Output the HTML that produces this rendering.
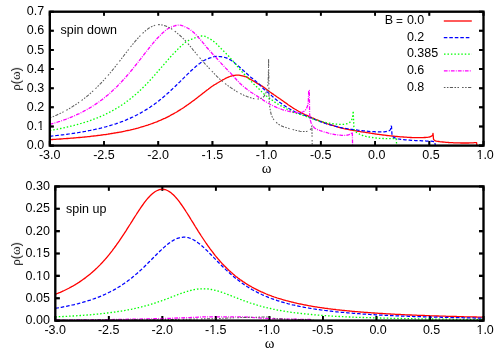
<!DOCTYPE html>
<html lang="en">
<head>
<meta charset="utf-8">
<title>Spectral density plots</title>
<style>
html,body{margin:0;padding:0;background:#fff;}
body{width:500px;height:350px;overflow:hidden;font-family:"Liberation Sans",sans-serif;}
svg{display:block;}
</style>
</head>
<body>
<svg width="500" height="350" viewBox="0 0 500 350">
<rect x="0" y="0" width="500" height="350" fill="#ffffff"/>
<g id="ticks">
<path d="M49.80,145.60 v-4.55 M49.80,11.70 v4.10 M104.01,145.60 v-4.55 M104.01,11.70 v4.10 M158.22,145.60 v-4.55 M158.22,11.70 v4.10 M212.44,145.60 v-4.55 M212.44,11.70 v4.10 M266.65,145.60 v-4.55 M266.65,11.70 v4.10 M320.86,145.60 v-4.55 M320.86,11.70 v4.10 M375.07,145.60 v-4.55 M375.07,11.70 v4.10 M429.29,145.60 v-4.55 M429.29,11.70 v4.10 M483.50,145.60 v-4.55 M483.50,11.70 v4.10" stroke="#000" stroke-width="1.85" fill="none"/>
<path d="M49.80,145.60 h4.00 M483.50,145.60 h-4.50 M49.80,126.47 h4.00 M483.50,126.47 h-4.50 M49.80,107.34 h4.00 M483.50,107.34 h-4.50 M49.80,88.21 h4.00 M483.50,88.21 h-4.50 M49.80,69.09 h4.00 M483.50,69.09 h-4.50 M49.80,49.96 h4.00 M483.50,49.96 h-4.50 M49.80,30.83 h4.00 M483.50,30.83 h-4.50 M49.80,11.70 h4.00 M483.50,11.70 h-4.50" stroke="#000" stroke-width="2.05" fill="none"/>
<path d="M55.30,320.60 v-4.55 M55.30,186.40 v4.40 M108.82,320.60 v-4.55 M108.82,186.40 v4.40 M162.35,320.60 v-4.55 M162.35,186.40 v4.40 M215.88,320.60 v-4.55 M215.88,186.40 v4.40 M269.40,320.60 v-4.55 M269.40,186.40 v4.40 M322.93,320.60 v-4.55 M322.93,186.40 v4.40 M376.45,320.60 v-4.55 M376.45,186.40 v4.40 M429.98,320.60 v-4.55 M429.98,186.40 v4.40 M483.50,320.60 v-4.55 M483.50,186.40 v4.40" stroke="#000" stroke-width="1.85" fill="none"/>
<path d="M55.30,320.60 h4.50 M483.50,320.60 h-4.50 M55.30,298.23 h4.50 M483.50,298.23 h-4.50 M55.30,275.87 h4.50 M483.50,275.87 h-4.50 M55.30,253.50 h4.50 M483.50,253.50 h-4.50 M55.30,231.13 h4.50 M483.50,231.13 h-4.50 M55.30,208.77 h4.50 M483.50,208.77 h-4.50 M55.30,186.40 h4.50 M483.50,186.40 h-4.50" stroke="#000" stroke-width="2.05" fill="none"/>
</g>
<g id="top-curves">
<path d="M49.8,139.7 L50.5,139.6 L51.4,139.6 L52.4,139.5 L53.6,139.4 L54.7,139.4 L55.8,139.3 L56.8,139.2 L57.8,139.2 L58.8,139.1 L59.8,139.0 L60.8,139.0 L61.8,138.9 L62.8,138.8 L63.8,138.7 L64.8,138.7 L65.8,138.6 L66.8,138.5 L67.8,138.5 L68.8,138.4 L69.8,138.3 L70.8,138.2 L71.8,138.1 L72.8,138.1 L73.8,138.0 L74.8,137.9 L75.8,137.8 L76.8,137.7 L77.8,137.6 L78.8,137.5 L79.8,137.5 L80.8,137.4 L81.8,137.3 L82.8,137.2 L83.8,137.1 L84.8,137.0 L85.8,136.9 L86.8,136.8 L87.8,136.7 L88.8,136.6 L89.8,136.5 L90.8,136.3 L91.8,136.2 L92.8,136.1 L93.8,136.0 L94.8,135.9 L95.8,135.8 L96.8,135.6 L97.8,135.5 L98.8,135.4 L99.8,135.3 L100.8,135.1 L101.8,135.0 L102.8,134.9 L103.8,134.7 L104.8,134.6 L105.8,134.5 L106.8,134.3 L107.8,134.2 L108.8,134.0 L109.8,133.9 L110.8,133.7 L111.8,133.5 L112.8,133.4 L113.8,133.2 L114.8,133.0 L115.8,132.9 L116.8,132.7 L117.8,132.5 L118.8,132.3 L119.8,132.1 L120.8,132.0 L121.8,131.8 L122.8,131.6 L123.8,131.4 L124.8,131.2 L125.8,130.9 L126.8,130.7 L127.8,130.5 L128.8,130.3 L129.8,130.1 L130.8,129.8 L131.8,129.6 L132.8,129.4 L133.8,129.1 L134.8,128.9 L135.8,128.6 L136.8,128.3 L137.8,128.1 L138.8,127.8 L139.8,127.5 L140.8,127.2 L141.8,126.9 L142.8,126.6 L143.8,126.3 L144.8,126.0 L145.8,125.7 L146.8,125.4 L147.8,125.1 L148.8,124.7 L149.8,124.4 L150.8,124.0 L151.8,123.7 L152.8,123.3 L153.8,122.9 L154.8,122.5 L155.8,122.2 L156.8,121.8 L157.8,121.3 L158.8,120.9 L159.8,120.5 L160.8,120.1 L161.8,119.6 L162.8,119.2 L163.8,118.7 L164.8,118.3 L165.8,117.8 L166.8,117.3 L167.8,116.8 L168.8,116.3 L169.8,115.8 L170.8,115.2 L171.8,114.7 L172.8,114.2 L173.8,113.6 L174.8,113.0 L175.8,112.5 L176.7,112.0 L177.5,111.4 L178.4,110.9 L179.2,110.4 L180.1,109.9 L180.9,109.3 L181.8,108.8 L182.7,108.2 L183.5,107.7 L184.4,107.1 L185.2,106.5 L186.1,105.9 L186.9,105.3 L187.8,104.7 L188.7,104.1 L189.5,103.5 L190.4,102.9 L191.2,102.3 L192.1,101.6 L192.9,101.0 L193.8,100.4 L194.7,99.7 L195.5,99.1 L196.4,98.4 L197.2,97.8 L198.1,97.1 L198.9,96.4 L199.8,95.8 L200.7,95.1 L201.5,94.4 L202.4,93.8 L203.2,93.1 L204.1,92.4 L204.9,91.8 L205.8,91.1 L206.6,90.4 L207.5,89.8 L208.3,89.2 L209.1,88.5 L209.9,87.9 L210.8,87.2 L211.8,86.5 L212.6,86.0 L213.5,85.4 L214.5,84.8 L215.5,84.2 L216.5,83.6 L217.4,83.0 L218.4,82.5 L219.2,82.0 L220.0,81.5 L221.2,80.8 L222.2,80.2 L223.2,79.7 L224.1,79.2 L225.0,78.7 L226.0,78.2 L226.9,77.7 L227.9,77.3 L228.9,76.9 L230.0,76.5 L230.9,76.2 L231.8,76.0 L232.8,75.7 L233.8,75.5 L234.9,75.3 L235.9,75.1 L237.0,75.1 L238.0,75.1 L239.0,75.2 L240.1,75.4 L241.1,75.6 L242.2,75.8 L243.2,76.0 L244.1,76.3 L245.0,76.5 L246.2,76.9 L247.2,77.4 L248.1,77.9 L249.0,78.5 L250.0,79.0 L251.0,79.6 L252.0,80.2 L253.0,80.8 L254.0,81.4 L255.0,82.0 L255.9,82.5 L256.8,83.1 L257.7,83.6 L258.6,84.1 L259.5,84.6 L260.4,85.1 L261.2,85.6 L262.1,86.1 L263.0,86.7 L264.0,87.4 L264.8,88.0 L265.5,88.6 L266.4,89.2 L267.2,89.9 L268.1,90.6 L269.0,91.3 L270.0,92.0 L270.8,92.5 L271.5,93.1 L272.3,93.6 L273.1,94.1 L273.9,94.7 L274.8,95.3 L275.8,96.0 L276.8,96.7 L278.0,97.5 L278.7,98.0 L279.4,98.5 L280.2,99.0 L281.0,99.6 L281.9,100.2 L282.7,100.8 L283.6,101.5 L284.5,102.1 L285.5,102.8 L286.4,103.4 L287.3,104.0 L288.1,104.7 L289.0,105.3 L289.8,105.8 L290.6,106.4 L291.3,106.8 L292.0,107.3 L293.2,108.1 L294.2,108.7 L295.2,109.3 L296.1,109.8 L296.9,110.3 L297.7,110.7 L298.5,111.2 L299.2,111.6 L300.0,112.0 L301.1,112.6 L302.1,113.1 L303.0,113.6 L303.9,114.0 L304.9,114.5 L306.0,115.0 L306.9,115.4 L307.9,115.9 L308.9,116.4 L310.0,116.8 L311.1,117.3 L312.1,117.8 L313.1,118.2 L314.0,118.6 L315.1,119.1 L316.1,119.5 L317.0,119.8 L317.9,120.2 L318.9,120.6 L320.0,121.0 L320.9,121.3 L321.7,121.7 L322.6,122.0 L323.5,122.4 L324.5,122.8 L325.5,123.2 L326.7,123.6 L328.0,124.0 L328.8,124.3 L329.7,124.5 L330.6,124.8 L331.6,125.1 L332.6,125.4 L333.6,125.7 L334.6,126.1 L335.7,126.4 L336.8,126.7 L337.8,127.0 L338.9,127.3 L339.9,127.6 L341.0,127.8 L342.0,128.1 L343.0,128.3 L344.0,128.6 L345.0,128.8 L346.0,129.0 L347.0,129.2 L348.0,129.4 L349.0,129.6 L350.0,129.8 L351.0,130.0 L352.0,130.2 L353.0,130.4 L354.0,130.5 L355.0,130.7 L356.0,130.9 L357.1,131.1 L358.1,131.3 L359.2,131.4 L360.2,131.6 L361.3,131.8 L362.3,131.9 L363.4,132.1 L364.4,132.2 L365.4,132.4 L366.5,132.5 L367.5,132.7 L368.6,132.8 L369.6,133.0 L370.6,133.2 L371.7,133.3 L372.7,133.5 L373.7,133.6 L374.7,133.8 L375.8,134.0 L376.8,134.1 L377.8,134.3 L378.8,134.4 L379.9,134.6 L380.9,134.7 L382.0,134.9 L383.0,135.0 L384.0,135.1 L385.0,135.2 L386.0,135.4 L387.0,135.5 L388.0,135.6 L389.0,135.7 L390.0,135.8 L391.0,135.9 L392.0,136.0 L393.0,136.1 L394.0,136.2 L395.0,136.3 L396.0,136.4 L397.0,136.5 L398.0,136.6 L399.0,136.7 L400.1,136.8 L401.1,136.8 L402.2,136.9 L403.3,137.0 L404.3,137.1 L405.3,137.2 L406.4,137.2 L407.4,137.3 L408.3,137.3 L409.3,137.4 L410.2,137.5 L411.0,137.5 L412.2,137.6 L413.4,137.6 L414.5,137.6 L415.5,137.7 L416.5,137.7 L417.4,137.7 L418.3,137.7 L419.2,137.7 L420.0,137.7 L421.2,137.7 L422.3,137.6 L423.3,137.6 L424.3,137.5 L425.2,137.5 L426.0,137.4 L427.2,137.3 L428.2,137.2 L429.2,137.0 L430.0,136.8 L431.4,136.2 L432.3,135.5 L432.8,134.4 L433.0,133.4 L433.5,139.0 L433.8,139.6 L434.6,140.4 L435.4,140.8 L436.5,141.1 L438.0,141.4 L438.8,141.5 L439.7,141.7 L440.7,141.8 L441.8,141.9 L442.9,142.0 L444.0,142.1 L445.0,142.2 L445.9,142.3 L446.8,142.4 L447.6,142.4 L448.5,142.5 L449.5,142.6 L450.6,142.6 L452.0,142.7 L452.8,142.7 L453.7,142.8 L454.6,142.8 L455.6,142.8 L456.6,142.9 L457.7,142.9 L458.8,142.9 L459.9,142.9 L461.0,143.0 L462.0,143.0 L463.1,143.0 L464.1,143.0 L465.1,143.0 L466.0,143.0 L467.2,143.0 L468.5,143.0 L469.8,142.9 L471.0,142.9 L472.2,142.8 L473.3,142.8 L474.3,142.7 L475.2,142.7 L476.0,142.6 L476.6,142.6 L476.9,145.5" stroke="#ff0000" stroke-width="1.30" fill="none" stroke-linejoin="round"/>
<path d="M49.8,136.2 L50.5,136.2 L51.4,136.1 L52.4,136.0 L53.6,135.8 L54.7,135.7 L55.8,135.6 L56.8,135.5 L57.8,135.4 L58.8,135.3 L59.8,135.1 L60.8,135.0 L61.8,134.9 L62.8,134.8 L63.8,134.7 L64.8,134.5 L65.8,134.4 L66.8,134.3 L67.8,134.1 L68.8,134.0 L69.8,133.9 L70.8,133.7 L71.8,133.6 L72.8,133.4 L73.8,133.3 L74.8,133.1 L75.8,133.0 L76.8,132.8 L77.8,132.7 L78.8,132.5 L79.8,132.3 L80.8,132.2 L81.8,132.0 L82.8,131.8 L83.8,131.6 L84.8,131.5 L85.8,131.3 L86.8,131.1 L87.8,130.9 L88.8,130.7 L89.8,130.5 L90.8,130.3 L91.8,130.1 L92.8,129.9 L93.8,129.7 L94.8,129.5 L95.8,129.2 L96.8,129.0 L97.8,128.8 L98.8,128.6 L99.8,128.3 L100.8,128.1 L101.8,127.8 L102.8,127.6 L103.8,127.3 L104.8,127.0 L105.8,126.8 L106.8,126.5 L107.8,126.2 L108.8,125.9 L109.8,125.6 L110.8,125.3 L111.8,125.0 L112.8,124.7 L113.8,124.4 L114.8,124.1 L115.8,123.8 L116.8,123.4 L117.8,123.1 L118.8,122.7 L119.8,122.4 L120.8,122.0 L121.8,121.6 L122.8,121.3 L123.8,120.9 L124.8,120.5 L125.8,120.1 L126.8,119.6 L127.8,119.2 L128.8,118.8 L129.8,118.4 L130.8,117.9 L131.8,117.4 L132.8,117.0 L133.8,116.5 L134.8,116.0 L135.8,115.5 L136.8,115.0 L137.8,114.5 L138.8,113.9 L139.8,113.4 L140.8,112.9 L141.8,112.3 L142.8,111.7 L143.8,111.1 L144.8,110.5 L145.8,109.9 L146.7,109.4 L147.5,108.8 L148.4,108.3 L149.2,107.7 L150.1,107.2 L150.9,106.6 L151.8,106.0 L152.7,105.4 L153.5,104.8 L154.4,104.2 L155.2,103.5 L156.1,102.9 L156.9,102.3 L157.8,101.6 L158.7,100.9 L159.5,100.3 L160.4,99.6 L161.2,98.9 L162.1,98.2 L162.9,97.5 L163.8,96.7 L164.6,96.1 L165.3,95.4 L166.1,94.8 L166.8,94.1 L167.6,93.5 L168.3,92.8 L169.1,92.1 L169.8,91.4 L170.6,90.7 L171.3,90.0 L172.1,89.3 L172.8,88.6 L173.6,87.9 L174.3,87.2 L175.1,86.5 L175.8,85.8 L176.6,85.0 L177.3,84.3 L178.1,83.6 L178.8,82.8 L179.6,82.1 L180.3,81.3 L181.1,80.6 L181.8,79.8 L182.6,79.1 L183.3,78.4 L184.1,77.6 L184.8,76.9 L185.6,76.1 L186.3,75.4 L187.1,74.6 L187.8,73.9 L188.6,73.2 L189.3,72.5 L190.1,71.8 L190.8,71.0 L191.6,70.3 L192.3,69.7 L193.1,69.0 L193.8,68.3 L194.7,67.6 L195.5,66.8 L196.4,66.1 L197.2,65.4 L198.1,64.7 L198.9,64.0 L199.8,63.4 L200.6,62.8 L201.5,62.2 L202.3,61.6 L203.1,61.0 L204.0,60.5 L204.9,60.0 L205.8,59.6 L206.8,59.1 L207.8,58.7 L208.9,58.3 L210.0,57.9 L211.1,57.6 L212.1,57.3 L213.0,57.0 L214.1,56.7 L215.1,56.5 L216.0,56.4 L216.9,56.4 L218.0,56.4 L218.9,56.5 L219.9,56.6 L221.0,56.7 L222.0,56.9 L223.1,57.1 L224.1,57.3 L225.0,57.5 L226.1,57.8 L227.1,58.2 L228.1,58.6 L229.0,59.1 L230.0,59.6 L230.8,60.1 L231.7,60.7 L232.5,61.3 L233.3,62.0 L234.2,62.6 L235.0,63.3 L235.8,64.0 L236.7,64.7 L237.5,65.3 L238.3,66.1 L239.2,66.8 L240.0,67.5 L240.8,68.2 L241.7,69.0 L242.5,69.7 L243.3,70.5 L244.2,71.2 L245.0,72.0 L245.8,72.8 L246.7,73.5 L247.5,74.3 L248.3,75.0 L249.2,75.8 L250.0,76.5 L250.8,77.2 L251.7,77.9 L252.6,78.6 L253.4,79.2 L254.2,79.9 L255.0,80.5 L255.8,81.2 L256.6,81.9 L257.4,82.5 L258.2,83.2 L259.0,84.0 L259.7,84.7 L260.3,85.4 L261.0,86.1 L261.7,86.9 L262.5,87.7 L263.2,88.5 L264.0,89.2 L264.8,89.9 L265.6,90.6 L266.4,91.3 L267.2,91.9 L268.1,92.6 L269.0,93.4 L270.0,94.2 L270.7,94.8 L271.4,95.4 L272.1,96.1 L272.8,96.7 L273.5,97.4 L274.3,98.1 L275.1,98.8 L276.0,99.5 L276.9,100.3 L278.0,101.1 L278.7,101.6 L279.5,102.2 L280.3,102.7 L281.1,103.3 L281.9,103.9 L282.8,104.5 L283.7,105.2 L284.6,105.8 L285.6,106.4 L286.5,107.0 L287.4,107.6 L288.4,108.2 L289.3,108.8 L290.2,109.3 L291.1,109.8 L292.0,110.3 L292.9,110.8 L293.9,111.2 L294.8,111.7 L295.7,112.1 L296.7,112.4 L297.6,112.8 L298.6,113.2 L299.5,113.5 L300.4,113.8 L301.4,114.2 L302.3,114.5 L303.2,114.9 L304.2,115.2 L305.1,115.5 L306.0,115.9 L307.0,116.3 L308.0,116.7 L309.0,117.1 L310.1,117.5 L311.1,117.9 L312.1,118.4 L313.1,118.8 L314.2,119.2 L315.1,119.6 L316.1,119.9 L317.0,120.3 L317.9,120.7 L318.8,121.0 L319.6,121.3 L320.9,121.8 L321.9,122.2 L322.9,122.5 L323.8,122.9 L324.7,123.2 L325.6,123.5 L326.7,123.8 L328.0,124.2 L328.8,124.4 L329.7,124.7 L330.6,125.0 L331.6,125.2 L332.6,125.5 L333.6,125.8 L334.6,126.0 L335.7,126.3 L336.8,126.6 L337.8,126.9 L338.9,127.1 L340.0,127.4 L341.0,127.6 L342.0,127.8 L343.0,128.0 L344.0,128.2 L345.0,128.4 L346.0,128.5 L347.0,128.7 L348.1,128.8 L349.1,129.0 L350.1,129.1 L351.1,129.3 L352.1,129.4 L353.1,129.5 L354.1,129.6 L355.0,129.8 L356.0,129.9 L357.0,130.0 L358.1,130.2 L359.1,130.3 L360.1,130.4 L361.2,130.6 L362.2,130.7 L363.2,130.8 L364.2,130.9 L365.2,131.0 L366.2,131.1 L367.1,131.2 L368.1,131.3 L369.0,131.4 L370.1,131.5 L371.2,131.6 L372.3,131.6 L373.4,131.7 L374.4,131.7 L375.5,131.8 L376.5,131.8 L377.4,131.8 L378.3,131.9 L379.2,131.9 L380.0,131.9 L381.3,131.9 L382.5,131.9 L383.5,131.8 L384.4,131.8 L385.2,131.7 L386.0,131.6 L387.3,131.4 L388.2,131.1 L389.0,130.8 L389.9,130.2 L390.4,129.6 L390.7,128.8 L390.9,128.0 L391.0,127.0 L391.0,126.2 L391.5,126.4 L392.0,135.0 L392.4,135.9 L393.2,137.0 L393.9,137.4 L394.7,137.9 L395.8,138.2 L397.0,138.6 L397.8,138.8 L398.8,139.0 L399.8,139.1 L400.8,139.3 L401.9,139.4 L403.0,139.6 L404.0,139.7 L404.9,139.8 L405.8,139.9 L406.7,140.0 L407.5,140.1 L408.5,140.1 L409.7,140.2 L411.0,140.3 L411.8,140.3 L412.8,140.4 L413.8,140.4 L414.9,140.5 L416.1,140.5 L417.2,140.6 L418.4,140.6 L419.6,140.7 L420.7,140.7 L421.8,140.8 L422.8,140.8 L423.8,140.9 L424.6,140.9 L426.1,141.0 L427.4,141.0 L428.4,141.0 L429.3,141.0 L430.2,141.0 L431.0,141.1 L432.6,141.3 L433.9,141.6 L434.8,141.8 L435.3,145.5" stroke="#0000ff" stroke-width="1.25" fill="none" stroke-linejoin="round" stroke-dasharray="3.55,1.95"/>
<path d="M49.8,130.5 L50.5,130.4 L51.4,130.3 L52.4,130.1 L53.6,129.9 L54.7,129.6 L55.8,129.4 L56.8,129.3 L57.8,129.1 L58.8,128.9 L59.8,128.7 L60.8,128.5 L61.8,128.3 L62.8,128.0 L63.8,127.8 L64.8,127.6 L65.8,127.4 L66.8,127.2 L67.8,126.9 L68.8,126.7 L69.8,126.5 L70.8,126.2 L71.8,126.0 L72.8,125.7 L73.8,125.5 L74.8,125.2 L75.8,124.9 L76.8,124.7 L77.8,124.4 L78.8,124.1 L79.8,123.8 L80.8,123.5 L81.8,123.2 L82.8,122.9 L83.8,122.6 L84.8,122.3 L85.8,122.0 L86.8,121.7 L87.8,121.4 L88.8,121.0 L89.8,120.7 L90.8,120.3 L91.8,120.0 L92.8,119.6 L93.8,119.2 L94.8,118.8 L95.8,118.5 L96.8,118.1 L97.8,117.7 L98.8,117.2 L99.8,116.8 L100.8,116.4 L101.8,116.0 L102.8,115.5 L103.8,115.1 L104.8,114.6 L105.8,114.1 L106.8,113.6 L107.8,113.1 L108.8,112.6 L109.8,112.1 L110.8,111.6 L111.8,111.1 L112.8,110.5 L113.8,110.0 L114.8,109.4 L115.8,108.8 L116.7,108.3 L117.5,107.8 L118.4,107.2 L119.2,106.7 L120.1,106.2 L120.9,105.6 L121.8,105.0 L122.7,104.5 L123.5,103.9 L124.4,103.3 L125.2,102.7 L126.1,102.1 L126.9,101.4 L127.8,100.8 L128.7,100.1 L129.5,99.5 L130.4,98.8 L131.2,98.1 L132.1,97.4 L132.9,96.7 L133.8,96.0 L134.6,95.4 L135.3,94.7 L136.1,94.1 L136.8,93.4 L137.6,92.7 L138.3,92.0 L139.1,91.3 L139.8,90.6 L140.6,89.9 L141.3,89.2 L142.1,88.5 L142.8,87.8 L143.6,87.0 L144.3,86.3 L145.1,85.5 L145.8,84.7 L146.6,84.0 L147.3,83.2 L148.1,82.4 L148.8,81.6 L149.6,80.8 L150.3,80.0 L151.1,79.2 L151.8,78.3 L152.5,77.6 L153.1,76.9 L153.8,76.1 L154.5,75.4 L155.1,74.6 L155.8,73.9 L156.5,73.1 L157.1,72.3 L157.8,71.6 L158.5,70.8 L159.1,70.0 L159.8,69.2 L160.5,68.5 L161.1,67.7 L161.8,66.9 L162.5,66.1 L163.1,65.4 L163.8,64.6 L164.5,63.8 L165.1,63.0 L165.8,62.3 L166.5,61.5 L167.1,60.7 L167.8,59.9 L168.5,59.2 L169.1,58.4 L169.8,57.7 L170.6,56.8 L171.3,56.0 L172.1,55.2 L172.8,54.4 L173.6,53.5 L174.3,52.7 L175.1,52.0 L175.8,51.2 L176.6,50.4 L177.3,49.7 L178.1,48.9 L178.8,48.2 L179.6,47.5 L180.3,46.8 L181.1,46.1 L181.8,45.5 L182.6,44.8 L183.3,44.1 L184.0,43.4 L184.7,42.8 L185.5,42.2 L186.5,41.5 L187.8,40.9 L188.6,40.5 L189.4,40.1 L190.4,39.7 L191.4,39.3 L192.4,38.9 L193.5,38.5 L194.6,38.0 L195.7,37.6 L196.8,37.3 L197.9,36.9 L198.9,36.6 L199.9,36.3 L200.7,36.1 L201.5,36.0 L203.0,35.9 L204.2,36.0 L205.2,36.4 L206.1,36.8 L207.0,37.3 L208.0,37.9 L208.9,38.3 L209.7,38.8 L210.6,39.3 L211.5,39.9 L212.4,40.5 L213.2,41.1 L214.1,41.8 L215.0,42.5 L215.8,43.2 L216.6,43.9 L217.3,44.7 L218.1,45.4 L218.9,46.3 L219.7,47.1 L220.4,47.9 L221.2,48.7 L222.0,49.5 L222.8,50.3 L223.6,51.1 L224.4,51.8 L225.2,52.6 L226.0,53.4 L226.7,54.2 L227.5,54.9 L228.3,55.7 L229.0,56.5 L229.7,57.3 L230.4,58.1 L231.1,58.9 L231.8,59.7 L232.5,60.5 L233.1,61.2 L233.8,62.0 L234.4,62.8 L235.0,63.5 L235.8,64.4 L236.5,65.3 L237.2,66.2 L237.9,67.0 L238.6,67.9 L239.3,68.7 L240.0,69.5 L240.7,70.3 L241.4,71.1 L242.1,71.9 L242.9,72.7 L243.6,73.5 L244.3,74.2 L245.0,75.0 L245.7,75.7 L246.5,76.5 L247.2,77.2 L247.9,77.9 L248.6,78.6 L249.3,79.3 L250.0,80.0 L250.8,80.9 L251.6,81.8 L252.4,82.6 L253.2,83.4 L254.0,84.3 L254.8,85.1 L255.6,85.8 L256.4,86.6 L257.3,87.4 L258.2,88.2 L259.0,89.0 L259.7,89.7 L260.4,90.4 L261.1,91.1 L261.8,91.9 L262.5,92.6 L263.2,93.3 L264.0,94.0 L264.8,94.7 L265.6,95.3 L266.4,96.0 L267.2,96.6 L268.1,97.2 L269.0,97.9 L270.0,98.6 L270.8,99.2 L271.5,99.7 L272.3,100.3 L273.1,100.9 L273.9,101.5 L274.8,102.1 L275.8,102.7 L276.8,103.4 L278.0,104.1 L278.8,104.6 L279.6,105.0 L280.5,105.6 L281.5,106.1 L282.4,106.7 L283.5,107.2 L284.5,107.8 L285.5,108.4 L286.5,108.9 L287.6,109.5 L288.5,110.0 L289.5,110.5 L290.4,110.9 L291.2,111.3 L292.0,111.7 L293.3,112.3 L294.5,112.7 L295.5,113.1 L296.5,113.4 L297.4,113.7 L298.3,113.9 L299.1,114.1 L300.0,114.4 L301.1,114.8 L302.1,115.1 L303.0,115.4 L303.9,115.7 L304.9,116.0 L306.0,116.4 L306.9,116.7 L307.7,117.0 L308.6,117.4 L309.5,117.7 L310.5,118.1 L311.5,118.5 L312.7,118.9 L314.0,119.3 L314.8,119.5 L315.7,119.8 L316.7,120.1 L317.6,120.4 L318.7,120.7 L319.7,121.0 L320.8,121.2 L321.9,121.5 L323.0,121.8 L324.0,122.1 L325.1,122.4 L326.1,122.6 L327.1,122.8 L328.0,123.0 L329.1,123.2 L330.3,123.4 L331.4,123.6 L332.5,123.7 L333.5,123.8 L334.6,124.0 L335.6,124.1 L336.5,124.1 L337.5,124.2 L338.4,124.3 L339.2,124.3 L340.4,124.3 L341.6,124.4 L342.6,124.3 L343.6,124.3 L344.5,124.2 L345.4,124.1 L346.2,123.9 L347.5,123.5 L348.6,123.1 L349.6,122.5 L350.4,121.8 L351.1,120.9 L351.7,119.9 L352.1,118.8 L352.5,117.5 L352.7,116.5 L352.9,115.2 L353.0,113.9 L353.1,112.7 L353.1,111.6 L353.2,110.9 L353.9,127.5 L354.0,128.4 L354.2,129.8 L354.8,131.0 L355.6,131.8 L356.7,132.5 L357.8,133.1 L358.8,133.7 L359.8,134.3 L360.7,134.8 L362.0,135.3 L362.8,135.5 L363.7,135.8 L364.7,136.1 L365.8,136.3 L366.9,136.6 L368.0,136.8 L369.0,137.0 L370.0,137.2 L371.0,137.4 L372.0,137.5 L373.0,137.6 L374.0,137.8 L375.0,137.9 L376.0,138.0 L376.9,138.1 L377.8,138.2 L378.7,138.3 L379.6,138.3 L380.5,138.4 L381.7,138.4 L383.0,138.5 L383.8,138.5 L384.8,138.5 L385.9,138.6 L387.0,138.6 L388.2,138.6 L389.4,138.6 L390.6,138.6 L391.8,138.7 L392.9,138.7 L393.9,138.7 L394.8,138.7 L395.6,138.7 L396.2,138.7 L396.7,145.5" stroke="#00ff00" stroke-width="1.30" fill="none" stroke-linejoin="round" stroke-dasharray="1.5,1.96"/>
<path d="M49.8,124.4 L50.5,124.2 L51.4,123.9 L52.4,123.6 L53.6,123.3 L54.7,123.0 L55.8,122.6 L56.8,122.3 L57.8,122.0 L58.8,121.7 L59.8,121.4 L60.8,121.0 L61.8,120.7 L62.8,120.3 L63.8,120.0 L64.8,119.6 L65.8,119.3 L66.8,118.9 L67.8,118.5 L68.8,118.1 L69.8,117.7 L70.8,117.3 L71.8,116.9 L72.8,116.5 L73.8,116.0 L74.8,115.6 L75.8,115.2 L76.8,114.7 L77.8,114.2 L78.8,113.8 L79.8,113.3 L80.8,112.8 L81.8,112.3 L82.8,111.8 L83.8,111.2 L84.8,110.7 L85.8,110.2 L86.8,109.6 L87.8,109.0 L88.8,108.5 L89.8,107.9 L90.8,107.3 L91.8,106.6 L92.7,106.1 L93.5,105.6 L94.4,105.0 L95.2,104.4 L96.1,103.9 L96.9,103.3 L97.8,102.7 L98.7,102.1 L99.5,101.5 L100.4,100.8 L101.2,100.2 L102.1,99.6 L102.9,98.9 L103.8,98.2 L104.7,97.5 L105.5,96.9 L106.4,96.1 L107.2,95.4 L108.1,94.7 L108.9,94.0 L109.8,93.2 L110.5,92.6 L111.3,91.9 L112.0,91.2 L112.8,90.5 L113.5,89.8 L114.3,89.1 L115.0,88.4 L115.8,87.6 L116.5,86.9 L117.3,86.2 L118.0,85.4 L118.8,84.6 L119.5,83.9 L120.3,83.1 L121.0,82.3 L121.8,81.5 L122.5,80.8 L123.1,80.0 L123.8,79.3 L124.5,78.6 L125.1,77.8 L125.8,77.1 L126.5,76.3 L127.1,75.5 L127.8,74.8 L128.5,74.0 L129.1,73.2 L129.8,72.4 L130.5,71.6 L131.1,70.8 L131.8,70.0 L132.5,69.2 L133.1,68.3 L133.8,67.5 L134.5,66.7 L135.1,65.9 L135.8,65.0 L136.5,64.2 L137.1,63.3 L137.8,62.5 L138.5,61.6 L139.1,60.8 L139.8,59.9 L140.5,59.1 L141.1,58.2 L141.8,57.4 L142.5,56.5 L143.1,55.6 L143.8,54.8 L144.5,53.9 L145.1,53.1 L145.8,52.2 L146.5,51.4 L147.1,50.5 L147.8,49.7 L148.5,48.8 L149.1,48.0 L149.8,47.2 L150.5,46.3 L151.1,45.5 L151.8,44.7 L152.5,43.9 L153.1,43.1 L153.8,42.3 L154.5,41.5 L155.1,40.8 L155.8,40.0 L156.5,39.2 L157.1,38.5 L157.8,37.8 L158.6,37.0 L159.3,36.2 L160.1,35.5 L160.8,34.7 L161.6,34.0 L162.3,33.3 L163.1,32.6 L163.8,32.0 L164.6,31.3 L165.4,30.6 L166.2,30.0 L167.0,29.3 L167.9,28.8 L168.8,28.2 L169.8,27.7 L170.7,27.3 L171.7,26.9 L172.7,26.5 L173.7,26.2 L174.8,25.8 L175.9,25.5 L177.0,25.3 L178.0,25.1 L179.0,25.1 L180.1,25.2 L181.1,25.3 L182.1,25.6 L183.1,26.0 L184.1,26.4 L185.1,26.8 L186.1,27.3 L187.0,27.8 L187.9,28.3 L188.8,28.8 L189.7,29.4 L190.6,29.9 L191.4,30.6 L192.3,31.2 L193.1,31.9 L194.0,32.7 L194.7,33.4 L195.4,34.0 L196.1,34.8 L196.8,35.5 L197.5,36.3 L198.2,37.1 L198.9,38.0 L199.6,38.8 L200.3,39.6 L201.0,40.4 L201.7,41.2 L202.4,42.0 L203.1,42.9 L203.8,43.7 L204.5,44.6 L205.2,45.5 L205.9,46.3 L206.6,47.2 L207.3,48.0 L208.0,48.8 L208.7,49.6 L209.4,50.4 L210.1,51.2 L210.8,51.9 L211.5,52.7 L212.2,53.5 L212.9,54.2 L213.6,55.0 L214.3,55.7 L215.0,56.5 L215.7,57.3 L216.4,58.0 L217.1,58.8 L217.8,59.6 L218.4,60.3 L219.1,61.1 L219.8,61.8 L220.5,62.6 L221.3,63.4 L222.0,64.2 L222.7,64.9 L223.4,65.7 L224.2,66.5 L225.0,67.3 L225.7,68.1 L226.5,68.9 L227.3,69.7 L228.0,70.4 L228.7,71.2 L229.4,71.8 L230.0,72.5 L230.9,73.4 L231.6,74.3 L232.3,75.0 L232.9,75.7 L233.6,76.5 L234.3,77.2 L235.0,78.0 L235.7,78.7 L236.4,79.5 L237.0,80.3 L237.8,81.0 L238.5,81.8 L239.3,82.6 L240.1,83.5 L241.0,84.3 L241.7,84.9 L242.5,85.6 L243.3,86.3 L244.2,87.0 L245.1,87.7 L245.9,88.4 L246.8,89.1 L247.7,89.8 L248.5,90.4 L249.3,91.0 L250.0,91.5 L251.0,92.2 L251.9,92.8 L252.7,93.3 L253.4,93.8 L254.2,94.3 L255.1,94.8 L256.0,95.4 L256.8,95.9 L257.7,96.5 L258.6,97.1 L259.5,97.7 L260.4,98.3 L261.3,98.9 L262.3,99.5 L263.1,100.1 L264.0,100.6 L264.9,101.2 L265.8,101.7 L266.7,102.3 L267.6,102.8 L268.4,103.3 L269.3,103.8 L270.1,104.3 L271.0,104.8 L272.0,105.3 L273.0,105.8 L274.0,106.3 L275.0,106.7 L276.0,107.2 L277.0,107.6 L278.0,108.0 L279.0,108.4 L280.0,108.8 L281.0,109.1 L282.0,109.5 L283.0,109.8 L284.0,110.1 L285.0,110.4 L286.0,110.7 L287.0,110.9 L288.1,111.2 L289.1,111.4 L290.1,111.6 L291.1,111.8 L292.0,112.0 L293.1,112.2 L294.1,112.3 L295.2,112.4 L296.1,112.5 L297.1,112.6 L298.0,112.6 L299.3,112.6 L300.4,112.5 L301.5,112.3 L302.5,112.0 L303.7,111.5 L304.6,110.8 L305.5,110.0 L306.2,109.0 L306.8,107.9 L307.3,106.5 L307.6,105.6 L307.8,104.7 L308.0,103.7 L308.2,102.5 L308.3,101.0 L308.4,100.1 L308.4,99.0 L308.5,97.8 L308.5,96.5 L308.6,95.3 L308.6,94.0 L308.6,92.8 L308.7,91.8 L308.7,90.9 L308.7,90.2 L309.3,90.4 L309.6,114.0 L309.7,114.7 L309.8,115.8 L309.9,116.9 L310.0,118.1 L310.2,119.2 L310.4,120.3 L310.7,121.4 L311.0,122.4 L311.4,123.4 L311.9,124.5 L312.6,125.5 L313.3,126.5 L314.0,127.4 L314.9,128.2 L315.9,128.8 L317.0,129.4 L317.9,129.8 L318.8,130.1 L319.8,130.5 L321.0,130.9 L321.8,131.2 L322.8,131.5 L323.8,131.8 L324.8,132.1 L325.9,132.4 L327.0,132.7 L328.0,133.0 L329.0,133.3 L330.0,133.5 L330.9,133.8 L331.9,134.0 L332.9,134.2 L333.9,134.4 L335.0,134.6 L336.0,134.7 L337.1,134.9 L338.2,135.0 L339.3,135.1 L340.4,135.2 L341.5,135.3 L342.5,135.4 L343.4,135.4 L344.7,135.4 L346.0,135.3 L347.1,135.2 L348.1,135.0 L349.0,134.7 L350.1,134.2 L351.0,133.5 L351.8,132.8 L352.3,132.3 L352.6,145.5" stroke="#ff00ff" stroke-width="1.30" fill="none" stroke-linejoin="round" stroke-dasharray="3.7,1.2,0.9,1.2"/>
<path d="M49.8,117.9 L50.5,117.7 L51.4,117.3 L52.4,116.9 L53.6,116.4 L54.7,115.9 L55.8,115.4 L56.8,115.0 L57.8,114.5 L58.8,114.0 L59.8,113.6 L60.8,113.1 L61.8,112.6 L62.8,112.1 L63.8,111.6 L64.8,111.0 L65.8,110.5 L66.8,110.0 L67.8,109.4 L68.8,108.8 L69.8,108.3 L70.8,107.7 L71.8,107.1 L72.8,106.4 L73.8,105.8 L74.7,105.3 L75.5,104.7 L76.4,104.1 L77.2,103.6 L78.1,103.0 L78.9,102.4 L79.8,101.8 L80.7,101.2 L81.5,100.5 L82.4,99.9 L83.2,99.2 L84.1,98.6 L84.9,97.9 L85.8,97.2 L86.7,96.5 L87.5,95.8 L88.4,95.1 L89.2,94.4 L90.1,93.6 L90.9,92.9 L91.8,92.1 L92.5,91.4 L93.3,90.8 L94.0,90.1 L94.8,89.4 L95.5,88.6 L96.3,87.9 L97.0,87.2 L97.8,86.4 L98.5,85.7 L99.3,84.9 L100.0,84.2 L100.8,83.4 L101.5,82.6 L102.3,81.8 L103.0,81.0 L103.8,80.2 L104.5,79.4 L105.1,78.7 L105.8,77.9 L106.5,77.2 L107.1,76.4 L107.8,75.7 L108.5,74.9 L109.1,74.1 L109.8,73.3 L110.5,72.5 L111.1,71.7 L111.8,70.9 L112.5,70.1 L113.1,69.3 L113.8,68.5 L114.5,67.6 L115.1,66.8 L115.8,66.0 L116.5,65.1 L117.1,64.3 L117.8,63.4 L118.5,62.6 L119.1,61.7 L119.8,60.9 L120.5,60.0 L121.1,59.2 L121.8,58.3 L122.5,57.4 L123.1,56.6 L123.8,55.7 L124.5,54.8 L125.1,54.0 L125.8,53.1 L126.5,52.2 L127.1,51.4 L127.8,50.5 L128.5,49.7 L129.1,48.8 L129.8,48.0 L130.5,47.1 L131.1,46.3 L131.8,45.4 L132.5,44.6 L133.1,43.8 L133.8,43.0 L134.5,42.2 L135.1,41.4 L135.8,40.6 L136.5,39.8 L137.1,39.1 L137.8,38.3 L138.5,37.6 L139.1,36.9 L139.8,36.2 L140.6,35.4 L141.3,34.6 L142.1,33.9 L142.8,33.2 L143.6,32.5 L144.3,31.8 L145.1,31.1 L145.8,30.5 L146.6,29.9 L147.5,29.2 L148.3,28.6 L149.1,28.0 L149.9,27.5 L150.8,27.0 L151.8,26.6 L152.7,26.2 L153.6,25.8 L154.5,25.5 L155.5,25.1 L156.5,24.9 L157.5,24.7 L158.6,24.6 L159.7,24.6 L160.6,24.7 L161.6,24.9 L162.6,25.1 L163.7,25.4 L164.7,25.7 L165.8,26.1 L166.9,26.5 L167.9,27.0 L169.0,27.5 L170.0,28.0 L170.9,28.5 L171.7,29.0 L172.6,29.6 L173.5,30.2 L174.3,30.9 L175.2,31.5 L176.1,32.2 L176.9,32.9 L177.7,33.6 L178.5,34.2 L179.3,34.9 L180.0,35.5 L180.9,36.3 L181.8,37.1 L182.6,37.8 L183.3,38.6 L184.1,39.3 L184.8,40.1 L185.5,40.9 L186.2,41.7 L187.0,42.5 L187.7,43.3 L188.4,44.1 L189.1,44.9 L189.8,45.8 L190.5,46.6 L191.2,47.5 L191.9,48.3 L192.6,49.2 L193.3,50.1 L194.0,50.9 L194.7,51.7 L195.4,52.6 L196.1,53.4 L196.8,54.3 L197.5,55.1 L198.2,56.0 L198.9,56.8 L199.6,57.7 L200.3,58.5 L201.0,59.3 L201.7,60.1 L202.4,60.9 L203.1,61.7 L203.9,62.5 L204.6,63.3 L205.3,64.1 L206.0,64.8 L206.7,65.6 L207.4,66.3 L208.0,67.0 L208.8,67.8 L209.5,68.6 L210.2,69.4 L210.8,70.1 L211.5,70.8 L212.2,71.5 L212.9,72.2 L213.6,73.0 L214.4,73.8 L215.1,74.6 L215.9,75.3 L216.6,76.1 L217.4,76.9 L218.3,77.7 L219.1,78.5 L220.0,79.3 L220.7,79.9 L221.5,80.6 L222.3,81.2 L223.1,81.9 L223.9,82.6 L224.7,83.2 L225.5,83.9 L226.4,84.5 L227.2,85.1 L228.0,85.7 L228.9,86.3 L229.8,87.0 L230.7,87.6 L231.7,88.2 L232.6,88.8 L233.5,89.4 L234.4,90.0 L235.2,90.5 L236.0,91.0 L237.1,91.7 L238.1,92.2 L239.0,92.8 L239.9,93.3 L240.9,93.8 L242.0,94.3 L242.9,94.7 L243.9,95.2 L245.0,95.6 L246.1,96.1 L247.1,96.5 L248.2,96.9 L249.1,97.3 L250.0,97.6 L251.2,98.0 L252.2,98.3 L253.2,98.5 L254.1,98.7 L255.0,98.8 L256.2,98.9 L257.3,99.0 L258.5,98.9 L259.5,98.8 L260.8,98.5 L262.0,98.0 L263.0,97.3 L263.7,96.7 L264.3,95.9 L264.9,95.0 L265.4,94.0 L265.8,93.1 L266.2,92.1 L266.6,91.1 L266.9,89.9 L267.2,88.6 L267.4,87.8 L267.5,87.0 L267.7,86.1 L267.8,85.2 L267.9,84.2 L268.0,83.1 L268.1,81.7 L268.2,80.0 L268.2,79.2 L268.3,78.3 L268.3,77.4 L268.3,76.3 L268.4,75.3 L268.4,74.1 L268.4,72.9 L268.4,71.7 L268.4,70.5 L268.5,69.3 L268.5,68.0 L268.5,66.9 L268.5,65.7 L268.5,64.6 L268.5,63.5 L268.6,62.6 L268.6,61.7 L268.6,60.9 L268.6,60.2 L268.6,59.6 L269.0,96.0 L269.0,96.6 L269.1,97.4 L269.1,98.4 L269.2,99.5 L269.2,100.7 L269.3,101.9 L269.4,103.0 L269.5,104.2 L269.6,105.2 L269.7,106.3 L269.9,107.5 L270.0,108.6 L270.2,109.7 L270.4,110.8 L270.6,111.8 L270.8,112.7 L271.0,113.6 L271.4,115.0 L271.8,116.1 L272.3,117.1 L272.8,118.0 L273.3,118.9 L273.9,119.7 L274.5,120.5 L275.2,121.3 L276.0,122.1 L276.8,122.8 L277.6,123.5 L278.5,124.2 L279.3,124.7 L280.0,125.2 L280.9,125.7 L282.2,126.2 L283.0,126.5 L283.9,126.9 L285.0,127.2 L286.0,127.6 L287.2,128.0 L288.3,128.3 L289.5,128.7 L290.6,129.0 L291.6,129.3 L292.7,129.6 L293.8,129.8 L295.0,130.1 L296.1,130.4 L297.2,130.6 L298.2,130.9 L299.1,131.0 L300.0,131.2 L301.3,131.4 L302.4,131.5 L303.3,131.5 L304.2,131.5 L305.0,131.5 L306.3,131.4 L307.4,131.3 L308.4,131.0 L309.6,130.3 L310.6,129.2 L311.1,128.1 L311.6,126.9 L311.9,126.0 L312.2,145.5" stroke="#5a5a5a" stroke-width="1.05" fill="none" stroke-linejoin="round" stroke-dasharray="1.6,1.5,1.5,1.4,3.2,1.4,1.6,1.4,1.5,3.1"/>
</g>
<g id="bottom-curves">
<path d="M55.3,294.3 L56.3,293.9 L57.3,293.5 L58.3,293.1 L59.3,292.7 L60.3,292.3 L61.3,291.8 L62.3,291.4 L63.3,290.9 L64.3,290.5 L65.3,290.0 L66.3,289.5 L67.3,289.0 L68.3,288.5 L69.3,288.0 L70.3,287.4 L71.3,286.9 L72.3,286.3 L73.3,285.8 L74.3,285.2 L75.3,284.6 L76.3,284.0 L77.3,283.4 L78.3,282.7 L79.3,282.1 L80.3,281.4 L81.3,280.7 L82.3,280.0 L83.3,279.3 L84.3,278.6 L85.3,277.9 L86.3,277.1 L87.3,276.3 L88.3,275.5 L89.3,274.7 L90.3,273.9 L91.3,273.1 L92.3,272.2 L93.3,271.3 L94.3,270.4 L95.3,269.5 L96.3,268.6 L97.3,267.6 L98.3,266.6 L99.3,265.6 L100.3,264.6 L101.3,263.5 L102.3,262.5 L103.3,261.4 L104.3,260.3 L105.3,259.1 L106.3,258.0 L107.3,256.8 L108.3,255.6 L109.3,254.4 L110.3,253.1 L111.3,251.8 L112.3,250.6 L113.3,249.2 L114.3,247.9 L115.3,246.5 L116.3,245.2 L117.3,243.7 L118.3,242.3 L119.3,240.9 L120.3,239.4 L121.3,237.9 L122.3,236.4 L123.3,234.9 L124.3,233.4 L125.3,231.8 L126.3,230.3 L127.3,228.7 L128.3,227.1 L129.3,225.5 L130.3,224.0 L131.3,222.4 L132.3,220.8 L133.3,219.2 L134.3,217.6 L135.3,216.0 L136.3,214.5 L137.3,212.9 L138.3,211.4 L139.3,209.8 L140.3,208.4 L141.3,206.9 L142.3,205.5 L143.3,204.1 L144.3,202.7 L145.3,201.4 L146.3,200.1 L147.3,198.9 L148.3,197.8 L149.3,196.7 L150.3,195.6 L151.3,194.7 L152.3,193.8 L153.3,193.0 L154.3,192.2 L155.3,191.5 L156.3,191.0 L157.3,190.5 L158.3,190.1 L159.3,189.7 L160.3,189.5 L161.3,189.4 L162.3,189.3 L163.3,189.4 L164.3,189.5 L165.3,189.7 L166.3,190.0 L167.3,190.5 L168.3,191.0 L169.3,191.6 L170.3,192.3 L171.3,193.0 L172.3,193.9 L173.3,194.8 L174.3,195.8 L175.3,196.9 L176.3,198.0 L177.3,199.2 L178.3,200.4 L179.3,201.7 L180.3,203.1 L181.3,204.5 L182.3,205.9 L183.3,207.4 L184.3,208.9 L185.3,210.4 L186.3,212.0 L187.3,213.5 L188.3,215.1 L189.3,216.7 L190.3,218.3 L191.3,220.0 L192.3,221.6 L193.3,223.2 L194.3,224.8 L195.3,226.5 L196.3,228.1 L197.3,229.7 L198.3,231.3 L199.3,232.8 L200.3,234.4 L201.3,236.0 L202.3,237.5 L203.3,239.0 L204.3,240.5 L205.3,242.0 L206.3,243.5 L207.3,244.9 L208.3,246.3 L209.3,247.7 L210.3,249.1 L211.3,250.4 L212.3,251.7 L213.3,253.0 L214.3,254.3 L215.3,255.6 L216.3,256.8 L217.3,258.0 L218.3,259.2 L219.3,260.3 L220.3,261.5 L221.3,262.6 L222.3,263.7 L223.3,264.7 L224.3,265.8 L225.3,266.8 L226.3,267.8 L227.3,268.8 L228.3,269.7 L229.3,270.7 L230.3,271.6 L231.3,272.5 L232.3,273.3 L233.3,274.2 L234.3,275.0 L235.3,275.9 L236.3,276.7 L237.3,277.4 L238.3,278.2 L239.3,278.9 L240.3,279.7 L241.3,280.4 L242.3,281.1 L243.3,281.8 L244.3,282.4 L245.3,283.1 L246.3,283.7 L247.3,284.4 L248.3,285.0 L249.3,285.6 L250.3,286.2 L251.3,286.7 L252.3,287.3 L253.3,287.8 L254.3,288.4 L255.3,288.9 L256.3,289.4 L257.3,289.9 L258.3,290.4 L259.3,290.9 L260.3,291.3 L261.3,291.8 L262.3,292.2 L263.3,292.7 L264.3,293.1 L265.3,293.5 L266.3,294.0 L267.3,294.4 L268.3,294.8 L269.3,295.1 L270.3,295.5 L271.3,295.9 L272.3,296.3 L273.3,296.6 L274.3,297.0 L275.3,297.3 L276.3,297.6 L277.3,298.0 L278.3,298.3 L279.3,298.6 L280.3,298.9 L281.3,299.2 L282.3,299.5 L283.3,299.8 L284.3,300.1 L285.3,300.4 L286.3,300.7 L287.3,300.9 L288.3,301.2 L289.3,301.5 L290.3,301.7 L291.3,302.0 L292.3,302.2 L293.3,302.4 L294.3,302.7 L295.3,302.9 L296.3,303.1 L297.3,303.4 L298.3,303.6 L299.3,303.8 L300.3,304.0 L301.3,304.2 L302.3,304.4 L303.3,304.6 L304.3,304.8 L305.3,305.0 L306.3,305.2 L307.3,305.4 L308.3,305.6 L309.3,305.8 L310.3,305.9 L311.3,306.1 L312.3,306.3 L313.3,306.5 L314.3,306.6 L315.3,306.8 L316.3,306.9 L317.3,307.1 L318.3,307.3 L319.3,307.4 L320.3,307.6 L321.3,307.7 L322.3,307.9 L323.3,308.0 L324.3,308.1 L325.3,308.3 L326.3,308.4 L327.3,308.5 L328.3,308.7 L329.3,308.8 L330.3,308.9 L331.3,309.1 L332.3,309.2 L333.3,309.3 L334.3,309.4 L335.3,309.5 L336.3,309.7 L337.3,309.8 L338.3,309.9 L339.3,310.0 L340.3,310.1 L341.3,310.2 L342.3,310.3 L343.3,310.4 L344.3,310.5 L345.3,310.6 L346.3,310.7 L347.3,310.8 L348.3,310.9 L349.3,311.0 L350.3,311.1 L351.3,311.2 L352.3,311.3 L353.3,311.4 L354.3,311.5 L355.3,311.6 L356.3,311.7 L357.3,311.7 L358.3,311.8 L359.3,311.9 L360.3,312.0 L361.3,312.1 L362.3,312.1 L363.3,312.2 L364.3,312.3 L365.3,312.4 L366.3,312.5 L367.3,312.5 L368.3,312.6 L369.3,312.7 L370.3,312.7 L371.3,312.8 L372.3,312.9 L373.3,313.0 L374.3,313.0 L375.3,313.1 L376.3,313.2 L377.3,313.2 L378.3,313.3 L379.3,313.3 L380.3,313.4 L381.3,313.5 L382.3,313.5 L383.3,313.6 L384.3,313.7 L385.3,313.7 L386.3,313.8 L387.3,313.8 L388.3,313.9 L389.3,313.9 L390.3,314.0 L391.3,314.1 L392.3,314.1 L393.3,314.2 L394.3,314.2 L395.3,314.3 L396.3,314.3 L397.3,314.4 L398.3,314.4 L399.3,314.5 L400.3,314.5 L401.3,314.6 L402.3,314.6 L403.3,314.7 L404.3,314.7 L405.3,314.8 L406.3,314.8 L407.3,314.8 L408.3,314.9 L409.3,314.9 L410.3,315.0 L411.3,315.0 L412.3,315.1 L413.3,315.1 L414.3,315.1 L415.3,315.2 L416.3,315.2 L417.3,315.3 L418.3,315.3 L419.3,315.3 L420.3,315.4 L421.3,315.4 L422.3,315.5 L423.3,315.5 L424.3,315.5 L425.3,315.6 L426.3,315.6 L427.3,315.6 L428.3,315.7 L429.3,315.7 L430.3,315.8 L431.3,315.8 L432.3,315.8 L433.3,315.9 L434.3,315.9 L435.3,315.9 L436.3,316.0 L437.3,316.0 L438.3,316.0 L439.3,316.1 L440.3,316.1 L441.3,316.1 L442.3,316.1 L443.3,316.2 L444.3,316.2 L445.3,316.2 L446.3,316.3 L447.3,316.3 L448.3,316.3 L449.3,316.4 L450.3,316.4 L451.3,316.4 L452.3,316.4 L453.3,316.5 L454.3,316.5 L455.3,316.5 L456.3,316.5 L457.3,316.6 L458.3,316.6 L459.3,316.6 L460.3,316.7 L461.3,316.7 L462.3,316.7 L463.3,316.7 L464.3,316.8 L465.3,316.8 L466.3,316.8 L467.3,316.8 L468.3,316.9 L469.3,316.9 L470.3,316.9 L471.3,316.9 L472.3,316.9 L473.3,317.0 L474.3,317.0 L475.3,317.0 L476.3,317.0 L477.3,317.1 L478.3,317.1 L479.3,317.1 L480.3,317.1 L481.3,317.1 L482.3,317.2 L483.3,317.2" stroke="#ff0000" stroke-width="1.30" fill="none" stroke-linejoin="round"/>
<path d="M55.3,308.3 L56.3,308.1 L57.3,308.0 L58.3,307.8 L59.3,307.6 L60.3,307.4 L61.3,307.3 L62.3,307.1 L63.3,306.9 L64.3,306.7 L65.3,306.5 L66.3,306.3 L67.3,306.1 L68.3,305.9 L69.3,305.7 L70.3,305.5 L71.3,305.2 L72.3,305.0 L73.3,304.8 L74.3,304.6 L75.3,304.3 L76.3,304.1 L77.3,303.8 L78.3,303.6 L79.3,303.3 L80.3,303.0 L81.3,302.8 L82.3,302.5 L83.3,302.2 L84.3,301.9 L85.3,301.6 L86.3,301.3 L87.3,301.0 L88.3,300.7 L89.3,300.4 L90.3,300.1 L91.3,299.7 L92.3,299.4 L93.3,299.0 L94.3,298.7 L95.3,298.3 L96.3,297.9 L97.3,297.6 L98.3,297.2 L99.3,296.8 L100.3,296.4 L101.3,296.0 L102.3,295.5 L103.3,295.1 L104.3,294.7 L105.3,294.2 L106.3,293.7 L107.3,293.3 L108.3,292.8 L109.3,292.3 L110.3,291.8 L111.3,291.3 L112.3,290.7 L113.3,290.2 L114.3,289.6 L115.3,289.1 L116.3,288.5 L117.3,287.9 L118.3,287.3 L119.3,286.7 L120.3,286.1 L121.3,285.4 L122.3,284.8 L123.3,284.1 L124.3,283.4 L125.3,282.7 L126.3,282.0 L127.3,281.3 L128.3,280.5 L129.3,279.8 L130.3,279.0 L131.3,278.2 L132.3,277.4 L133.3,276.6 L134.3,275.8 L135.3,274.9 L136.3,274.1 L137.3,273.2 L138.3,272.3 L139.3,271.4 L140.3,270.5 L141.3,269.6 L142.3,268.7 L143.3,267.7 L144.3,266.8 L145.3,265.8 L146.3,264.8 L147.3,263.8 L148.3,262.8 L149.3,261.8 L150.3,260.8 L151.3,259.8 L152.3,258.8 L153.3,257.8 L154.3,256.8 L155.3,255.8 L156.3,254.8 L157.3,253.8 L158.3,252.8 L159.3,251.8 L160.3,250.8 L161.3,249.9 L162.3,248.9 L163.3,248.0 L164.3,247.1 L165.3,246.2 L166.3,245.4 L167.3,244.6 L168.3,243.8 L169.3,243.0 L170.3,242.3 L171.3,241.6 L172.3,241.0 L173.3,240.4 L174.3,239.8 L175.3,239.3 L176.3,238.9 L177.3,238.4 L178.3,238.1 L179.3,237.8 L180.3,237.6 L181.3,237.4 L182.3,237.3 L183.3,237.2 L184.3,237.2 L185.3,237.2 L186.3,237.3 L187.3,237.5 L188.3,237.7 L189.3,238.0 L190.3,238.4 L191.3,238.8 L192.3,239.2 L193.3,239.7 L194.3,240.3 L195.3,240.9 L196.3,241.5 L197.3,242.2 L198.3,243.0 L199.3,243.7 L200.3,244.5 L201.3,245.4 L202.3,246.2 L203.3,247.1 L204.3,248.1 L205.3,249.0 L206.3,250.0 L207.3,250.9 L208.3,251.9 L209.3,252.9 L210.3,254.0 L211.3,255.0 L212.3,256.0 L213.3,257.0 L214.3,258.1 L215.3,259.1 L216.3,260.1 L217.3,261.2 L218.3,262.2 L219.3,263.2 L220.3,264.2 L221.3,265.2 L222.3,266.2 L223.3,267.2 L224.3,268.2 L225.3,269.1 L226.3,270.1 L227.3,271.0 L228.3,271.9 L229.3,272.8 L230.3,273.7 L231.3,274.6 L232.3,275.5 L233.3,276.3 L234.3,277.2 L235.3,278.0 L236.3,278.8 L237.3,279.6 L238.3,280.3 L239.3,281.1 L240.3,281.9 L241.3,282.6 L242.3,283.3 L243.3,284.0 L244.3,284.7 L245.3,285.4 L246.3,286.0 L247.3,286.7 L248.3,287.3 L249.3,287.9 L250.3,288.5 L251.3,289.1 L252.3,289.7 L253.3,290.2 L254.3,290.8 L255.3,291.3 L256.3,291.8 L257.3,292.4 L258.3,292.9 L259.3,293.4 L260.3,293.8 L261.3,294.3 L262.3,294.8 L263.3,295.2 L264.3,295.7 L265.3,296.1 L266.3,296.5 L267.3,296.9 L268.3,297.3 L269.3,297.7 L270.3,298.1 L271.3,298.5 L272.3,298.8 L273.3,299.2 L274.3,299.6 L275.3,299.9 L276.3,300.2 L277.3,300.6 L278.3,300.9 L279.3,301.2 L280.3,301.5 L281.3,301.8 L282.3,302.1 L283.3,302.4 L284.3,302.7 L285.3,303.0 L286.3,303.2 L287.3,303.5 L288.3,303.8 L289.3,304.0 L290.3,304.3 L291.3,304.5 L292.3,304.8 L293.3,305.0 L294.3,305.2 L295.3,305.4 L296.3,305.7 L297.3,305.9 L298.3,306.1 L299.3,306.3 L300.3,306.5 L301.3,306.7 L302.3,306.9 L303.3,307.1 L304.3,307.3 L305.3,307.5 L306.3,307.6 L307.3,307.8 L308.3,308.0 L309.3,308.2 L310.3,308.3 L311.3,308.5 L312.3,308.7 L313.3,308.8 L314.3,309.0 L315.3,309.1 L316.3,309.3 L317.3,309.4 L318.3,309.6 L319.3,309.7 L320.3,309.8 L321.3,310.0 L322.3,310.1 L323.3,310.2 L324.3,310.4 L325.3,310.5 L326.3,310.6 L327.3,310.7 L328.3,310.9 L329.3,311.0 L330.3,311.1 L331.3,311.2 L332.3,311.3 L333.3,311.4 L334.3,311.5 L335.3,311.7 L336.3,311.8 L337.3,311.9 L338.3,312.0 L339.3,312.1 L340.3,312.2 L341.3,312.3 L342.3,312.3 L343.3,312.4 L344.3,312.5 L345.3,312.6 L346.3,312.7 L347.3,312.8 L348.3,312.9 L349.3,313.0 L350.3,313.1 L351.3,313.1 L352.3,313.2 L353.3,313.3 L354.3,313.4 L355.3,313.4 L356.3,313.5 L357.3,313.6 L358.3,313.7 L359.3,313.7 L360.3,313.8 L361.3,313.9 L362.3,314.0 L363.3,314.0 L364.3,314.1 L365.3,314.2 L366.3,314.2 L367.3,314.3 L368.3,314.3 L369.3,314.4 L370.3,314.5 L371.3,314.5 L372.3,314.6 L373.3,314.7 L374.3,314.7 L375.3,314.8 L376.3,314.8 L377.3,314.9 L378.3,314.9 L379.3,315.0 L380.3,315.0 L381.3,315.1 L382.3,315.1 L383.3,315.2 L384.3,315.2 L385.3,315.3 L386.3,315.3 L387.3,315.4 L388.3,315.4 L389.3,315.5 L390.3,315.5 L391.3,315.6 L392.3,315.6 L393.3,315.7 L394.3,315.7 L395.3,315.8 L396.3,315.8 L397.3,315.8 L398.3,315.9 L399.3,315.9 L400.3,316.0 L401.3,316.0 L402.3,316.0 L403.3,316.1 L404.3,316.1 L405.3,316.2 L406.3,316.2 L407.3,316.2 L408.3,316.3 L409.3,316.3 L410.3,316.3 L411.3,316.4 L412.3,316.4 L413.3,316.5 L414.3,316.5 L415.3,316.5 L416.3,316.6 L417.3,316.6 L418.3,316.6 L419.3,316.7 L420.3,316.7 L421.3,316.7 L422.3,316.7 L423.3,316.8 L424.3,316.8 L425.3,316.8 L426.3,316.9 L427.3,316.9 L428.3,316.9 L429.3,317.0 L430.3,317.0 L431.3,317.0 L432.3,317.0 L433.3,317.1 L434.3,317.1 L435.3,317.1 L436.3,317.1 L437.3,317.2 L438.3,317.2 L439.3,317.2 L440.3,317.2 L441.3,317.3 L442.3,317.3 L443.3,317.3 L444.3,317.3 L445.3,317.4 L446.3,317.4 L447.3,317.4 L448.3,317.4 L449.3,317.5 L450.3,317.5 L451.3,317.5 L452.3,317.5 L453.3,317.6 L454.3,317.6 L455.3,317.6 L456.3,317.6 L457.3,317.6 L458.3,317.7 L459.3,317.7 L460.3,317.7 L461.3,317.7 L462.3,317.7 L463.3,317.8 L464.3,317.8 L465.3,317.8 L466.3,317.8 L467.3,317.8 L468.3,317.9 L469.3,317.9 L470.3,317.9 L471.3,317.9 L472.3,317.9 L473.3,317.9 L474.3,318.0 L475.3,318.0 L476.3,318.0 L477.3,318.0 L478.3,318.0 L479.3,318.0 L480.3,318.1 L481.3,318.1 L482.3,318.1 L483.3,318.1" stroke="#0000ff" stroke-width="1.25" fill="none" stroke-linejoin="round" stroke-dasharray="3.55,1.95"/>
<path d="M55.3,316.9 L56.3,316.9 L57.3,316.8 L58.3,316.8 L59.3,316.7 L60.3,316.7 L61.3,316.6 L62.3,316.6 L63.3,316.5 L64.3,316.5 L65.3,316.4 L66.3,316.4 L67.3,316.3 L68.3,316.3 L69.3,316.2 L70.3,316.2 L71.3,316.1 L72.3,316.0 L73.3,316.0 L74.3,315.9 L75.3,315.9 L76.3,315.8 L77.3,315.7 L78.3,315.7 L79.3,315.6 L80.3,315.5 L81.3,315.5 L82.3,315.4 L83.3,315.3 L84.3,315.2 L85.3,315.2 L86.3,315.1 L87.3,315.0 L88.3,314.9 L89.3,314.8 L90.3,314.8 L91.3,314.7 L92.3,314.6 L93.3,314.5 L94.3,314.4 L95.3,314.3 L96.3,314.2 L97.3,314.1 L98.3,314.0 L99.3,313.9 L100.3,313.8 L101.3,313.7 L102.3,313.6 L103.3,313.5 L104.3,313.4 L105.3,313.3 L106.3,313.2 L107.3,313.0 L108.3,312.9 L109.3,312.8 L110.3,312.7 L111.3,312.5 L112.3,312.4 L113.3,312.3 L114.3,312.1 L115.3,312.0 L116.3,311.8 L117.3,311.7 L118.3,311.5 L119.3,311.4 L120.3,311.2 L121.3,311.1 L122.3,310.9 L123.3,310.7 L124.3,310.6 L125.3,310.4 L126.3,310.2 L127.3,310.0 L128.3,309.8 L129.3,309.6 L130.3,309.5 L131.3,309.3 L132.3,309.0 L133.3,308.8 L134.3,308.6 L135.3,308.4 L136.3,308.2 L137.3,308.0 L138.3,307.7 L139.3,307.5 L140.3,307.2 L141.3,307.0 L142.3,306.7 L143.3,306.5 L144.3,306.2 L145.3,305.9 L146.3,305.7 L147.3,305.4 L148.3,305.1 L149.3,304.8 L150.3,304.5 L151.3,304.2 L152.3,303.9 L153.3,303.6 L154.3,303.3 L155.3,302.9 L156.3,302.6 L157.3,302.3 L158.3,301.9 L159.3,301.6 L160.3,301.2 L161.3,300.9 L162.3,300.5 L163.3,300.1 L164.3,299.8 L165.3,299.4 L166.3,299.0 L167.3,298.6 L168.3,298.3 L169.3,297.9 L170.3,297.5 L171.3,297.1 L172.3,296.7 L173.3,296.3 L174.3,296.0 L175.3,295.6 L176.3,295.2 L177.3,294.8 L178.3,294.4 L179.3,294.1 L180.3,293.7 L181.3,293.3 L182.3,293.0 L183.3,292.6 L184.3,292.3 L185.3,292.0 L186.3,291.7 L187.3,291.3 L188.3,291.1 L189.3,290.8 L190.3,290.5 L191.3,290.3 L192.3,290.0 L193.3,289.8 L194.3,289.6 L195.3,289.4 L196.3,289.3 L197.3,289.1 L198.3,289.0 L199.3,288.9 L200.3,288.8 L201.3,288.8 L202.3,288.8 L203.3,288.7 L204.3,288.8 L205.3,288.8 L206.3,288.9 L207.3,288.9 L208.3,289.0 L209.3,289.2 L210.3,289.3 L211.3,289.5 L212.3,289.7 L213.3,289.9 L214.3,290.1 L215.3,290.3 L216.3,290.6 L217.3,290.9 L218.3,291.2 L219.3,291.5 L220.3,291.8 L221.3,292.1 L222.3,292.5 L223.3,292.8 L224.3,293.2 L225.3,293.5 L226.3,293.9 L227.3,294.3 L228.3,294.7 L229.3,295.1 L230.3,295.4 L231.3,295.8 L232.3,296.2 L233.3,296.6 L234.3,297.0 L235.3,297.4 L236.3,297.8 L237.3,298.2 L238.3,298.6 L239.3,299.0 L240.3,299.4 L241.3,299.7 L242.3,300.1 L243.3,300.5 L244.3,300.8 L245.3,301.2 L246.3,301.6 L247.3,301.9 L248.3,302.3 L249.3,302.6 L250.3,303.0 L251.3,303.3 L252.3,303.6 L253.3,303.9 L254.3,304.2 L255.3,304.6 L256.3,304.9 L257.3,305.2 L258.3,305.4 L259.3,305.7 L260.3,306.0 L261.3,306.3 L262.3,306.6 L263.3,306.8 L264.3,307.1 L265.3,307.3 L266.3,307.6 L267.3,307.8 L268.3,308.1 L269.3,308.3 L270.3,308.5 L271.3,308.7 L272.3,308.9 L273.3,309.2 L274.3,309.4 L275.3,309.6 L276.3,309.8 L277.3,310.0 L278.3,310.1 L279.3,310.3 L280.3,310.5 L281.3,310.7 L282.3,310.9 L283.3,311.0 L284.3,311.2 L285.3,311.4 L286.3,311.5 L287.3,311.7 L288.3,311.8 L289.3,312.0 L290.3,312.1 L291.3,312.3 L292.3,312.4 L293.3,312.5 L294.3,312.7 L295.3,312.8 L296.3,312.9 L297.3,313.0 L298.3,313.2 L299.3,313.3 L300.3,313.4 L301.3,313.5 L302.3,313.6 L303.3,313.7 L304.3,313.8 L305.3,313.9 L306.3,314.0 L307.3,314.1 L308.3,314.2 L309.3,314.3 L310.3,314.4 L311.3,314.5 L312.3,314.6 L313.3,314.7 L314.3,314.8 L315.3,314.9 L316.3,315.0 L317.3,315.0 L318.3,315.1 L319.3,315.2 L320.3,315.3 L321.3,315.3 L322.3,315.4 L323.3,315.5 L324.3,315.6 L325.3,315.6 L326.3,315.7 L327.3,315.8 L328.3,315.8 L329.3,315.9 L330.3,316.0 L331.3,316.0 L332.3,316.1 L333.3,316.1 L334.3,316.2 L335.3,316.3 L336.3,316.3 L337.3,316.4 L338.3,316.4 L339.3,316.5 L340.3,316.5 L341.3,316.6 L342.3,316.6 L343.3,316.7 L344.3,316.7 L345.3,316.8 L346.3,316.8 L347.3,316.9 L348.3,316.9 L349.3,317.0 L350.3,317.0 L351.3,317.0 L352.3,317.1 L353.3,317.1 L354.3,317.2 L355.3,317.2 L356.3,317.3 L357.3,317.3 L358.3,317.3 L359.3,317.4 L360.3,317.4 L361.3,317.4 L362.3,317.5 L363.3,317.5 L364.3,317.5 L365.3,317.6 L366.3,317.6 L367.3,317.6 L368.3,317.7 L369.3,317.7 L370.3,317.7 L371.3,317.8 L372.3,317.8 L373.3,317.8 L374.3,317.9 L375.3,317.9 L376.3,317.9 L377.3,317.9 L378.3,318.0 L379.3,318.0 L380.3,318.0 L381.3,318.1 L382.3,318.1 L383.3,318.1 L384.3,318.1 L385.3,318.2 L386.3,318.2 L387.3,318.2 L388.3,318.2 L389.3,318.3 L390.3,318.3 L391.3,318.3 L392.3,318.3 L393.3,318.3 L394.3,318.4 L395.3,318.4 L396.3,318.4 L397.3,318.4 L398.3,318.5 L399.3,318.5 L400.3,318.5 L401.3,318.5 L402.3,318.5 L403.3,318.6 L404.3,318.6 L405.3,318.6 L406.3,318.6 L407.3,318.6 L408.3,318.6 L409.3,318.7 L410.3,318.7 L411.3,318.7 L412.3,318.7 L413.3,318.7 L414.3,318.7 L415.3,318.8 L416.3,318.8 L417.3,318.8 L418.3,318.8 L419.3,318.8 L420.3,318.8 L421.3,318.9 L422.3,318.9 L423.3,318.9 L424.3,318.9 L425.3,318.9 L426.3,318.9 L427.3,318.9 L428.3,319.0 L429.3,319.0 L430.3,319.0 L431.3,319.0 L432.3,319.0 L433.3,319.0 L434.3,319.0 L435.3,319.1 L436.3,319.1 L437.3,319.1 L438.3,319.1 L439.3,319.1 L440.3,319.1 L441.3,319.1 L442.3,319.1 L443.3,319.1 L444.3,319.2 L445.3,319.2 L446.3,319.2 L447.3,319.2 L448.3,319.2 L449.3,319.2 L450.3,319.2 L451.3,319.2 L452.3,319.2 L453.3,319.3 L454.3,319.3 L455.3,319.3 L456.3,319.3 L457.3,319.3 L458.3,319.3 L459.3,319.3 L460.3,319.3 L461.3,319.3 L462.3,319.3 L463.3,319.4 L464.3,319.4 L465.3,319.4 L466.3,319.4 L467.3,319.4 L468.3,319.4 L469.3,319.4 L470.3,319.4 L471.3,319.4 L472.3,319.4 L473.3,319.4 L474.3,319.5 L475.3,319.5 L476.3,319.5 L477.3,319.5 L478.3,319.5 L479.3,319.5 L480.3,319.5 L481.3,319.5 L482.3,319.5 L483.3,319.5" stroke="#00ff00" stroke-width="1.30" fill="none" stroke-linejoin="round" stroke-dasharray="1.5,1.96"/>
<path d="M55.3,320.2 L108.8,319.6 L162.3,318.6 L189.1,317.6 L205.2,316.8 L242.6,316.8 L258.7,317.8 L269.4,318.7 L290.8,319.2 L310.1,319.4 L312.2,320.6" stroke="#ff00ff" stroke-width="1.30" fill="none" stroke-linejoin="round" stroke-dasharray="3.7,1.2,0.9,1.2"/>
<path d="M55.3,320.4 L162.3,319.7 L215.9,318.6 L242.6,317.5 L264.0,317.0 L271.5,317.2 L274.8,318.7 L290.8,319.3 L312.2,319.7 L314.4,320.6" stroke="#5a5a5a" stroke-width="1.05" fill="none" stroke-linejoin="round" stroke-dasharray="1.6,1.5,1.5,1.4,3.2,1.4,1.6,1.4,1.5,3.1"/>
</g>
<g id="ticks-over" opacity="0.5">
<path d="M49.80,145.60 v-4.55 M49.80,11.70 v4.10 M104.01,145.60 v-4.55 M104.01,11.70 v4.10 M158.22,145.60 v-4.55 M158.22,11.70 v4.10 M212.44,145.60 v-4.55 M212.44,11.70 v4.10 M266.65,145.60 v-4.55 M266.65,11.70 v4.10 M320.86,145.60 v-4.55 M320.86,11.70 v4.10 M375.07,145.60 v-4.55 M375.07,11.70 v4.10 M429.29,145.60 v-4.55 M429.29,11.70 v4.10 M483.50,145.60 v-4.55 M483.50,11.70 v4.10" stroke="#000" stroke-width="1.85" fill="none"/>
<path d="M49.80,145.60 h4.00 M483.50,145.60 h-4.50 M49.80,126.47 h4.00 M483.50,126.47 h-4.50 M49.80,107.34 h4.00 M483.50,107.34 h-4.50 M49.80,88.21 h4.00 M483.50,88.21 h-4.50 M49.80,69.09 h4.00 M483.50,69.09 h-4.50 M49.80,49.96 h4.00 M483.50,49.96 h-4.50 M49.80,30.83 h4.00 M483.50,30.83 h-4.50 M49.80,11.70 h4.00 M483.50,11.70 h-4.50" stroke="#000" stroke-width="2.05" fill="none"/>
<path d="M55.30,320.60 v-4.55 M55.30,186.40 v4.40 M108.82,320.60 v-4.55 M108.82,186.40 v4.40 M162.35,320.60 v-4.55 M162.35,186.40 v4.40 M215.88,320.60 v-4.55 M215.88,186.40 v4.40 M269.40,320.60 v-4.55 M269.40,186.40 v4.40 M322.93,320.60 v-4.55 M322.93,186.40 v4.40 M376.45,320.60 v-4.55 M376.45,186.40 v4.40 M429.98,320.60 v-4.55 M429.98,186.40 v4.40 M483.50,320.60 v-4.55 M483.50,186.40 v4.40" stroke="#000" stroke-width="1.85" fill="none"/>
<path d="M55.30,320.60 h4.50 M483.50,320.60 h-4.50 M55.30,298.23 h4.50 M483.50,298.23 h-4.50 M55.30,275.87 h4.50 M483.50,275.87 h-4.50 M55.30,253.50 h4.50 M483.50,253.50 h-4.50 M55.30,231.13 h4.50 M483.50,231.13 h-4.50 M55.30,208.77 h4.50 M483.50,208.77 h-4.50 M55.30,186.40 h4.50 M483.50,186.40 h-4.50" stroke="#000" stroke-width="2.05" fill="none"/>
</g>
<g id="frames">
<rect x="49.80" y="11.70" width="433.70" height="133.90" fill="none" stroke="#000" stroke-width="2.35"/>
<rect x="55.30" y="186.40" width="428.20" height="134.20" fill="none" stroke="#000" stroke-width="2.35"/>
</g>
<g style="will-change:transform" font-family="'Liberation Sans', sans-serif" font-size="12.50" fill="#000">
<text x="49.70" y="159.20" text-anchor="middle">-3.0</text>
<text x="103.91" y="159.20" text-anchor="middle">-2.5</text>
<text x="158.12" y="159.20" text-anchor="middle">-2.0</text>
<text x="212.34" y="159.20" text-anchor="middle">-1.5</text>
<text x="266.55" y="159.20" text-anchor="middle">-1.0</text>
<text x="320.76" y="159.20" text-anchor="middle">-0.5</text>
<text x="376.71" y="159.20" text-anchor="middle">0.0</text>
<text x="430.93" y="159.20" text-anchor="middle">0.5</text>
<text x="485.14" y="159.20" text-anchor="middle">1.0</text>
<text x="44.25" y="149.25" text-anchor="end">0.0</text>
<text x="44.25" y="130.12" text-anchor="end">0.1</text>
<text x="44.25" y="110.99" text-anchor="end">0.2</text>
<text x="44.25" y="91.86" text-anchor="end">0.3</text>
<text x="44.25" y="72.74" text-anchor="end">0.4</text>
<text x="44.25" y="53.61" text-anchor="end">0.5</text>
<text x="44.25" y="34.48" text-anchor="end">0.6</text>
<text x="44.25" y="15.35" text-anchor="end">0.7</text>
<text x="55.20" y="334.10" text-anchor="middle">-3.0</text>
<text x="108.72" y="334.10" text-anchor="middle">-2.5</text>
<text x="162.25" y="334.10" text-anchor="middle">-2.0</text>
<text x="215.78" y="334.10" text-anchor="middle">-1.5</text>
<text x="269.30" y="334.10" text-anchor="middle">-1.0</text>
<text x="322.82" y="334.10" text-anchor="middle">-0.5</text>
<text x="378.09" y="334.10" text-anchor="middle">0.0</text>
<text x="431.62" y="334.10" text-anchor="middle">0.5</text>
<text x="485.14" y="334.10" text-anchor="middle">1.0</text>
<text x="49.85" y="324.25" text-anchor="end">0.00</text>
<text x="49.85" y="301.88" text-anchor="end">0.05</text>
<text x="49.85" y="279.52" text-anchor="end">0.10</text>
<text x="49.85" y="257.15" text-anchor="end">0.15</text>
<text x="49.85" y="234.78" text-anchor="end">0.20</text>
<text x="49.85" y="212.42" text-anchor="end">0.25</text>
<text x="49.85" y="190.05" text-anchor="end">0.30</text>
<text x="60.6" y="34.1">spin down</text>
<text x="66.1" y="213.2">spin up</text>
<text x="384.70" y="24.10">B<tspan dx="2.9" dy="1.1" font-size="11.8" fill="#222">=</tspan></text>
<text x="406.90" y="24.10">0.0</text>
<text x="406.90" y="40.78">0.2</text>
<text x="406.90" y="57.46">0.385</text>
<text x="406.90" y="74.14">0.6</text>
<text x="406.90" y="90.82">0.8</text>
<rect x="206.08" y="157.25" width="2.73" height="2.50" fill="#fff"/>
<rect x="210.13" y="157.25" width="2.54" height="2.50" fill="#fff"/>
<rect x="260.30" y="157.25" width="2.73" height="2.50" fill="#fff"/>
<rect x="264.34" y="157.25" width="2.54" height="2.50" fill="#fff"/>
<rect x="476.80" y="157.25" width="2.73" height="2.50" fill="#fff"/>
<rect x="480.85" y="157.25" width="2.54" height="2.50" fill="#fff"/>
<rect x="37.65" y="128.25" width="2.73" height="2.50" fill="#fff"/>
<rect x="41.70" y="128.25" width="2.54" height="2.50" fill="#fff"/>
<rect x="209.52" y="332.25" width="2.73" height="2.50" fill="#fff"/>
<rect x="213.57" y="332.25" width="2.54" height="2.50" fill="#fff"/>
<rect x="263.05" y="332.25" width="2.73" height="2.50" fill="#fff"/>
<rect x="267.09" y="332.25" width="2.54" height="2.50" fill="#fff"/>
<rect x="476.80" y="332.25" width="2.73" height="2.50" fill="#fff"/>
<rect x="480.85" y="332.25" width="2.54" height="2.50" fill="#fff"/>
<rect x="36.30" y="278.25" width="2.73" height="2.50" fill="#fff"/>
<rect x="40.34" y="278.25" width="2.54" height="2.50" fill="#fff"/>
<rect x="36.30" y="255.25" width="2.73" height="2.50" fill="#fff"/>
<rect x="40.34" y="255.25" width="2.54" height="2.50" fill="#fff"/>
</g>
<path d="M443.80,21.00 H471.80" stroke="#ff0000" stroke-width="1.30" fill="none" stroke-linejoin="round"/>
<path d="M443.80,37.50 H470.50" stroke="#0000ff" stroke-width="1.25" fill="none" stroke-linejoin="round" stroke-dasharray="3.55,1.95"/>
<path d="M444.00,54.10 H471.80" stroke="#00ff00" stroke-width="1.30" fill="none" stroke-linejoin="round" stroke-dasharray="1.5,1.96"/>
<path d="M443.90,70.90 H471.80" stroke="#ff00ff" stroke-width="1.30" fill="none" stroke-linejoin="round" stroke-dasharray="3.7,1.2,0.9,1.2"/>
<path d="M443.85,87.40 H471.80" stroke="#5a5a5a" stroke-width="1.05" fill="none" stroke-linejoin="round" stroke-dasharray="1.6,1.5,1.5,1.4,3.2,1.4,1.6,1.4,1.5,3.1"/>
<g style="will-change:transform" font-family="'Liberation Serif', serif" font-size="14.75" fill="#000">
<text x="266.6" y="173.3" text-anchor="middle">ω</text>
<text x="269.5" y="348.3" text-anchor="middle">ω</text>
</g>
<text style="will-change:transform" transform="translate(20.00,78.90) rotate(-90)" text-anchor="middle" font-size="12.30" fill="#000"><tspan font-family="'Liberation Serif', serif" font-size="13.00">ρ</tspan><tspan font-family="'Liberation Sans', sans-serif">(</tspan><tspan font-family="'Liberation Serif', serif" font-size="13.00">ω</tspan><tspan font-family="'Liberation Sans', sans-serif">)</tspan></text>
<text style="will-change:transform" transform="translate(20.00,253.90) rotate(-90)" text-anchor="middle" font-size="12.30" fill="#000"><tspan font-family="'Liberation Serif', serif" font-size="13.00">ρ</tspan><tspan font-family="'Liberation Sans', sans-serif">(</tspan><tspan font-family="'Liberation Serif', serif" font-size="13.00">ω</tspan><tspan font-family="'Liberation Sans', sans-serif">)</tspan></text>
</svg>
</body>
</html>
